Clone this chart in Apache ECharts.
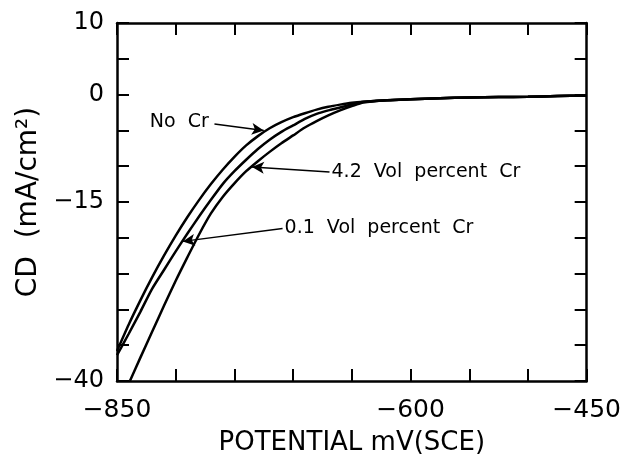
<!DOCTYPE html>
<html>
<head>
<meta charset="utf-8">
<script src="https://cdn.jsdelivr.net/npm/echarts@6/dist/echarts.min.js"></script>
<style>
  html, body { margin: 0; padding: 0; background: #fff; }
  #chart { width: 624px; height: 461px; }
</style>
</head>
<body>
<div id="chart"></div>
<script>
// potential, mV(SCE)
let potential = [-850, -840, -830, -820, -810, -800, -790, -780, -770, -760, -750, -740, -730, -720, -710, -700, -690, -680, -670, -660, -650, -640, -620, -600, -575, -550, -525, -500, -475, -450]

// current density, mA/cm2
let noCr = [-35.8, -32.1, -28.7, -25.5, -22.5, -19.7, -17.1, -14.7, -12.5, -10.5, -8.7, -7.1, -5.8, -4.7, -3.85, -3.15, -2.6, -2.1, -1.7, -1.4, -1.15, -1.0, -0.8, -0.65, -0.5, -0.4, -0.35, -0.3, -0.2, -0.15]
let cr01 = [-36.4, -33.4, -30.3, -27.1, -24.5, -21.9, -19.4, -17.0, -14.7, -12.5, -10.7, -9.1, -7.6, -6.3, -5.2, -4.3, -3.4, -2.7, -2.2, -1.8, -1.35, -1.0, -0.8, -0.65, -0.5, -0.4, -0.35, -0.3, -0.2, -0.15]
let cr42Potential = [-839].concat(potential.slice(2))
let cr42 = [-40.0, -36.7, -33.1, -29.5, -26.0, -22.7, -19.5, -16.6, -14.3, -12.4, -10.7, -9.3, -8.0, -6.8, -5.7, -4.6, -3.7, -2.9, -2.2, -1.6, -1.1, -0.8, -0.65, -0.5, -0.4, -0.35, -0.3, -0.2, -0.15]

let xLabels = [-850, -600, -450]
let yLabels = [10, 0, -15, -40]

// annotation text: [potential, cd, text]
let notes = [
  [-797, -3.9, 'No  Cr'],
  [-669, -10.8, '4.2  Vol  percent  Cr'],
  [-709, -18.7, '0.1  Vol  percent  Cr']
]
// arrows: [from potential, from cd, to potential, to cd]
let arrows = [
  [-767, -4.1, -725, -5.0],
  [-669, -10.8, -735, -10.1],
  [-709, -18.7, -794, -20.5]
]

function pairs (xs, ys) {
  return ys.map((y, i) => [xs[i], y])
}

function minus (v) {
  return String(v).replace('-', '\u2212')
}

let font = 'DejaVu Sans'
let ink = '#000'

let frameLine = { show: true, onZero: false, lineStyle: { color: ink, width: 2.5 } }
let tick = { show: true, inside: true, length: 12, lineStyle: { color: ink, width: 2 } }

let chart = echarts.init(document.getElementById('chart'))

let option = {
  animation: false,
  backgroundColor: '#fff',
  grid: { left: 117, top: 23, width: 476, height: 361, containLabel: false },
  xAxis: [
    {
      type: 'value',
      min: -850,
      max: -450,
      interval: 50,
      position: 'bottom',
      axisLine: frameLine,
      axisTick: tick,
      splitLine: { show: false },
      axisLabel: {
        margin: 17,
        color: ink,
        fontFamily: font,
        fontSize: 25,
        formatter: v => xLabels.indexOf(v) >= 0 ? minus(v) : ''
      },
      name: 'POTENTIAL mV(SCE)',
      nameLocation: 'middle',
      nameGap: 49,
      nameTextStyle: { color: ink, fontFamily: font, fontSize: 26 }
    },
    {
      type: 'value',
      min: -850,
      max: -450,
      interval: 50,
      position: 'top',
      axisLine: frameLine,
      axisTick: tick,
      splitLine: { show: false },
      axisLabel: { show: false }
    }
  ],
  yAxis: [
    {
      type: 'value',
      min: -40,
      max: 10,
      interval: 5,
      position: 'left',
      axisLine: frameLine,
      axisTick: tick,
      splitLine: { show: false },
      axisLabel: {
        margin: 13,
        color: ink,
        fontFamily: font,
        fontSize: 24,
        formatter: v => yLabels.indexOf(v) >= 0 ? minus(v) : ''
      },
      name: 'CD  (mA/cm\u00b2)',
      nameLocation: 'middle',
      nameGap: 72,
      nameTextStyle: { color: ink, fontFamily: font, fontSize: 28 }
    },
    {
      type: 'value',
      min: -40,
      max: 10,
      interval: 5,
      position: 'right',
      axisLine: frameLine,
      axisTick: tick,
      splitLine: { show: false },
      axisLabel: { show: false }
    }
  ],
  series: [
    {
      name: 'No Cr',
      type: 'line',
      smooth: 0.25,
      showSymbol: false,
      lineStyle: { color: ink, width: 2.5 },
      data: pairs(potential, noCr),
      markLine: {
        silent: true,
        symbol: ['none', 'arrow'],
        symbolSize: [9, 12],
        label: { show: false },
        lineStyle: { color: ink, width: 1.5, type: 'solid' },
        data: arrows.map(a => [{ coord: [a[0], a[1]] }, { coord: [a[2], a[3]] }])
      },
      markPoint: {
        silent: true,
        symbol: 'circle',
        symbolSize: 0,
        label: {
          show: true,
          color: ink,
          fontFamily: font,
          fontSize: 19,
          formatter: p => p.name
        },
        data: notes.map((n, i) => ({
          name: n[2],
          coord: [n[0], n[1]],
          label: { position: i === 0 ? 'inside' : 'right', distance: 2 }
        }))
      }
    },
    {
      name: '0.1 Vol percent Cr',
      type: 'line',
      smooth: 0.25,
      showSymbol: false,
      lineStyle: { color: ink, width: 2.5 },
      data: pairs(potential, cr01)
    },
    {
      name: '4.2 Vol percent Cr',
      type: 'line',
      smooth: 0.25,
      showSymbol: false,
      lineStyle: { color: ink, width: 2.5 },
      data: pairs(cr42Potential, cr42)
    }
  ]
}

chart.setOption(option)
window.addEventListener('resize', () => {
  chart && chart.resize()
})
</script>
</body>
</html>
